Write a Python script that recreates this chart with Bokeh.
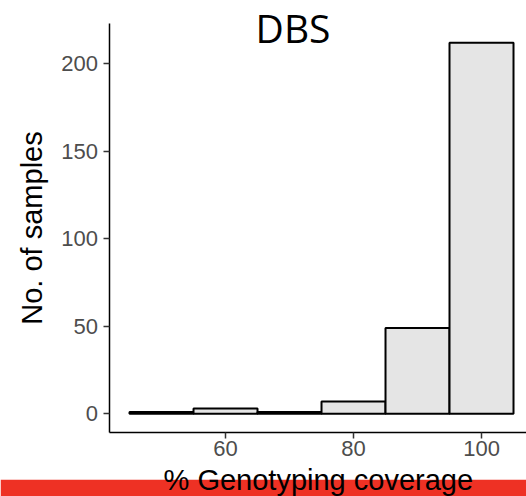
from bokeh.plotting import figure
from bokeh.models import Range1d, FixedTicker, BoxAnnotation, Label
from bokeh.embed import file_html
from bokeh.resources import INLINE

# Data (histogram, binwidth 10)
bin_centers = [50, 60, 70, 80, 90, 100]
counts = [1, 3, 1, 7, 49, 212]
binwidth = 10
x_ticks = [60, 80, 100]
y_ticks = [0, 50, 100, 150, 200]
title_text = "DBS"
x_label = "% Genotyping coverage"
y_label = "No. of samples"

lefts = [c - binwidth / 2 for c in bin_centers]
rights = [c + binwidth / 2 for c in bin_centers]

# panel limits and full canvas extents in data units
panel_x = (41.8, 107.03)
panel_y = (-10.7, 223.0)
canvas_x = (24.84, 107.03)
canvas_y = (-47.3, 236.2)

p = figure(width=526, height=496, output_backend="svg", toolbar_location=None,
           x_range=Range1d(*canvas_x), y_range=Range1d(*canvas_y))
p.min_border_left = 0
p.min_border_right = 0
p.min_border_top = 0
p.min_border_bottom = 0
p.outline_line_color = None
p.background_fill_color = "white"
p.border_fill_color = "white"
p.xgrid.visible = False
p.ygrid.visible = False

# red band at the bottom of the page
band = BoxAnnotation(top=-37.7, fill_color="#EE3124", fill_alpha=1.0,
                     line_color=None, level="underlay")
p.add_layout(band)

p.quad(left=lefts, right=rights, bottom=0, top=counts,
       fill_color="#E5E5E5", line_color="black", line_width=2)

for ax in (p.xaxis[0], p.yaxis[0]):
    ax.axis_line_color = "black"
    ax.axis_line_width = 1.5
    ax.major_tick_line_color = "#333333"
    ax.major_tick_line_width = 1.5
    ax.major_tick_in = 0
    ax.major_tick_out = 6
    ax.minor_tick_line_color = None
    ax.major_label_text_color = "#4D4D4D"
    ax.major_label_text_font = "Liberation Sans"
    ax.major_label_text_font_size = "22px"
    ax.axis_label_text_font = "Liberation Sans"
    ax.axis_label_text_font_style = "normal"
    ax.axis_label_text_color = "black"

p.xaxis.fixed_location = panel_y[0]
p.xaxis.bounds = panel_x
p.yaxis.fixed_location = panel_x[0]
p.yaxis.bounds = panel_y
p.xaxis.ticker = FixedTicker(ticks=x_ticks)
p.yaxis.ticker = FixedTicker(ticks=y_ticks)
p.yaxis.axis_label = y_label
p.yaxis.axis_label_text_font_size = "29px"
p.xaxis.major_label_standoff = 3
p.yaxis.major_label_standoff = 5
p.yaxis.axis_label_standoff = 11

xlab = Label(x=74.5, y=-37.6, text=x_label, text_align="center",
             text_baseline="middle", text_font="Liberation Sans",
             text_font_size="29px", text_color="black")
p.add_layout(xlab)

title = Label(x=70.55, y=221.0, text=title_text, text_align="center",
              text_baseline="middle", text_font="Open Sans",
              text_font_size="39px", text_color="black")
p.add_layout(title)

open("out.html", "w").write(file_html(p, INLINE))
